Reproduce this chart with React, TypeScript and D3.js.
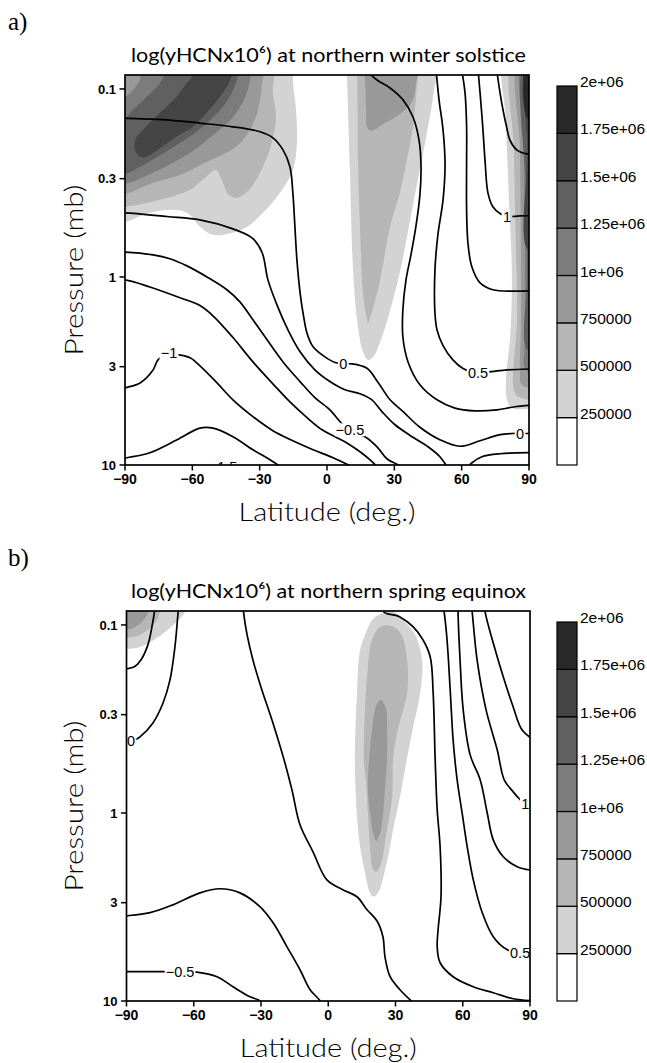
import React from 'react';
import * as d3 from 'd3';

type Pt = [number, number]; // [latitude (deg), pressure (mb)]

const LAT_TICKS = [-90, -60, -30, 0, 30, 60, 90];
const P_TICKS = [0.1, 0.3, 1, 3, 10];
const BAR_LEVELS = [0, 250000, 500000, 750000, 1000000, 1250000, 1500000, 1750000, 2000000];
const BAR_LABELS = ['250000', '500000', '750000', '1e+06', '1.25e+06', '1.5e+06', '1.75e+06', '2e+06'];
const FILL_COLORS = ['#ffffff', '#d3d3d3', '#b6b6b6', '#999999', '#7c7c7c', '#606060', '#454545', '#282828'];

// ---------- Panel a : northern winter solstice ----------
// shaded regions (value above the given colour-bar level)
const aFillL1Left: Pt[] = [[-96.7, 0.07], [-15.6, 0.07], [-15.2, 0.09], [-13.8, 0.129], [-13.4, 0.194], [-15.2, 0.27], [-20.9, 0.357], [-28.5, 0.456], [-35.6, 0.54], [-43.2, 0.585], [-50.8, 0.597], [-56.6, 0.54], [-62.4, 0.456], [-71.3, 0.44], [-82, 0.468], [-90, 0.511], [-96.7, 0.511]];
const aFillL2Left: Pt[] = [[-96.7, 0.07], [-25.4, 0.07], [-24.1, 0.105], [-22.7, 0.141], [-24.5, 0.191], [-27.6, 0.245], [-31.6, 0.305], [-36.1, 0.357], [-40.5, 0.38], [-44.1, 0.362], [-46.8, 0.305], [-49.5, 0.27], [-54.4, 0.297], [-61, 0.344], [-74.4, 0.389], [-90, 0.424], [-96.7, 0.424]];
const aFillL3Left: Pt[] = [[-96.7, 0.07], [-29, 0.07], [-29, 0.095], [-30.7, 0.129], [-34.3, 0.165], [-39.7, 0.199], [-46.8, 0.224], [-54.4, 0.247], [-65.5, 0.287], [-78.9, 0.32], [-90, 0.362], [-96.7, 0.362]];
const aFillL4Left: Pt[] = [[-96.7, 0.11], [-90, 0.11], [-86.4, 0.101], [-83.3, 0.0896], [-81.1, 0.07], [-34.3, 0.07], [-34.3, 0.0896], [-37, 0.114], [-42.3, 0.143], [-49.5, 0.171], [-57.5, 0.204], [-66.4, 0.239], [-76.6, 0.276], [-90, 0.32], [-96.7, 0.32]];
const aFillL5Left: Pt[] = [[-96.7, 0.143], [-90, 0.143], [-86.4, 0.129], [-80.2, 0.11], [-74.4, 0.093], [-71.3, 0.079], [-70.8, 0.07], [-40.5, 0.07], [-39.7, 0.084], [-42.3, 0.104], [-46.8, 0.126], [-53, 0.15], [-60.2, 0.176], [-69.1, 0.206], [-78, 0.239], [-84.2, 0.263], [-90, 0.283], [-96.7, 0.283]];
const aFillL6Left: Pt[] = [[-85.5, 0.187], [-82, 0.165], [-74.4, 0.134], [-67, 0.11], [-62.5, 0.093], [-59.7, 0.084], [-58.8, 0.07], [-41.9, 0.07], [-43.2, 0.09], [-47.7, 0.11], [-53.6, 0.134], [-59.7, 0.159], [-67, 0.179], [-74.4, 0.207], [-80.3, 0.229], [-83.3, 0.229], [-85.5, 0.211]];
const aFillL1Mid: Pt[] = [[8.5, 0.07], [8.9, 0.086], [10.2, 0.27], [11.6, 0.917], [13.4, 1.69], [16, 2.5], [18.3, 2.76], [20.9, 2.63], [24, 2.16], [27.2, 1.65], [32.5, 0.94], [38.3, 0.414], [44.1, 0.182], [47.7, 0.101], [48.6, 0.07]];
const aFillL2Mid: Pt[] = [[12.9, 0.07], [13.4, 0.084], [13.8, 0.239], [14.7, 0.54], [16, 1.215], [17.4, 1.59], [18.3, 1.75], [20, 1.53], [22.7, 1.17], [24.5, 0.917], [28.1, 0.54], [32.5, 0.357], [35.6, 0.239], [38.3, 0.159], [40.5, 0.084], [41, 0.07]];
const aFillL3Mid: Pt[] = [[16.5, 0.07], [16.9, 0.084], [17.4, 0.129], [17.8, 0.159], [19.6, 0.167], [24.9, 0.154], [32.5, 0.136], [37.9, 0.117], [39.6, 0.095], [40.1, 0.07]];
const aFillL1Right: Pt[] = [[79.3, 0.07], [79.7, 0.146], [81.1, 0.389], [82.4, 1.036], [81.5, 2.16], [79.7, 3.52], [80.2, 4.5], [82.4, 4.98], [90, 5.03], [97, 5.03], [97, 0.07]];
const aFillL2Right: Pt[] = [[82.9, 0.07], [83.3, 0.211], [84.2, 0.718], [84.7, 1.69], [83.3, 2.76], [82.9, 3.75], [84.2, 4.23], [86.9, 4.4], [97, 4.4], [97, 0.07]];
const aFillL3Right: Pt[] = [[85.5, 0.07], [86, 0.211], [86.4, 0.718], [86.4, 1.91], [86, 3.12], [86.9, 3.75], [97, 3.75], [97, 0.07]];
const aFillL4Right: Pt[] = [[87.3, 0.07], [87.7, 0.211], [88.2, 0.718], [88.2, 2.16], [88.6, 3.12], [97, 3.12], [97, 0.07]];
const aFillL5Right: Pt[] = [[88.4, 0.07], [88.9, 0.389], [89.1, 1.036], [89.3, 2.44], [97, 2.44], [97, 0.07]];
const aFillL6Right: Pt[] = [[89.1, 0.07], [89.3, 0.211], [89.5, 0.718], [97, 0.718], [97, 0.07]];
const aFillL7Right: Pt[] = [[89.5, 0.07], [89.7, 0.146], [97, 0.146], [97, 0.07]];

// contour lines of log(yHCN x 10^6), interval 0.25
const aC125: Pt[] = [[75.6, 0.079], [77.1, 0.105], [78.4, 0.129], [80, 0.159], [81.5, 0.187], [84.5, 0.211], [87.3, 0.219], [92.7, 0.224]];
const aC100: Pt[] = [[67.3, 0.079], [68.2, 0.105], [69.4, 0.159], [70.4, 0.239], [71.7, 0.357], [73.9, 0.423], [77.1, 0.46], [80.2, 0.477], [86, 0.473], [92.7, 0.473]];
const aC075: Pt[] = [[60, 0.079], [61.5, 0.105], [62.2, 0.159], [62.2, 0.239], [62.2, 0.44], [62.8, 0.66], [64.5, 0.88], [68.2, 1.075], [73.9, 1.17], [82.9, 1.19], [92.7, 1.18]];
const aC050: Pt[] = [[48.6, 0.079], [49.9, 0.114], [51.7, 0.165], [52.6, 0.254], [51.7, 0.389], [49.4, 0.597], [48.1, 0.917], [48.1, 1.56], [49, 1.91], [51.7, 2.32], [56.1, 2.76], [60.6, 3.07], [64.6, 3.2], [71.3, 3.2], [80.2, 3.12], [92.7, 3.08]];
const aC025: Pt[] = [[16.9, 0.079], [22.3, 0.0896], [28.1, 0.0988], [33.8, 0.114], [38.3, 0.141], [41, 0.187], [41.9, 0.26], [41.4, 0.366], [39.6, 0.54], [37.4, 0.763], [35.2, 1.036], [33.8, 1.495], [33.8, 2.08], [36.1, 2.83], [41.4, 3.745], [49, 4.5], [57, 4.98], [65.9, 5.15], [75.7, 5.09], [83.8, 4.9], [92.7, 4.8]];
const aC000: Pt[] = [[-96.7, 0.141], [-90, 0.143], [-71.3, 0.146], [-56.6, 0.152], [-41.9, 0.159], [-29.8, 0.169], [-24.1, 0.182], [-19.6, 0.211], [-16.5, 0.26], [-15.2, 0.358], [-14.3, 0.54], [-13.4, 0.811], [-12, 1.21], [-10.7, 1.55], [-8.9, 1.99], [-6.2, 2.35], [-0.9, 2.66], [3.6, 2.85], [7.3, 2.9], [11.1, 2.9], [17.8, 3.06], [22.7, 3.63], [28.1, 4.5], [33.9, 5.2], [41.4, 6.3], [50.3, 7.34], [59.3, 7.95], [68.2, 7.43], [77.1, 6.9], [82.4, 6.8], [86, 6.8], [92.7, 6.8]];
const aCm025: Pt[] = [[-96.7, 0.456], [-90, 0.456], [-71.3, 0.477], [-56.6, 0.497], [-41.9, 0.555], [-33.4, 0.62], [-29, 0.737], [-26.3, 1.036], [-22.3, 1.407], [-17.4, 1.91], [-12, 2.5], [-5.4, 3.12], [1.3, 3.6], [8, 3.98], [14.7, 4.18], [20, 4.5], [24.5, 5.2], [30.3, 6.11], [37.9, 7.07], [45, 8.0], [50.3, 9.04], [53.9, 10.4]];
const aCm025b: Pt[] = [[61.9, 10.6], [64.6, 9.73], [69, 9.04], [77.1, 8.71], [92.7, 8.6]];
const aCm050: Pt[] = [[-96.7, 0.737], [-90, 0.737], [-77.5, 0.763], [-70, 0.8], [-62.4, 0.873], [-53.5, 1.0], [-44.6, 1.17], [-38.8, 1.357], [-33, 1.69], [-26.7, 2.16], [-19.6, 2.83], [-12, 3.6], [-5.4, 4.38], [1.3, 5.09], [6.7, 6.04], [10.2, 6.5], [13.8, 6.82], [16.9, 7.07], [22.3, 8.0], [26.7, 9.26], [32.5, 10.1], [34.8, 10.6]];
const aCm075: Pt[] = [[-96.7, 1.036], [-90, 1.036], [-78.9, 1.13], [-65.5, 1.29], [-56.6, 1.42], [-50.8, 1.61], [-41.9, 2.1], [-33, 2.83], [-24.1, 3.7], [-16.5, 4.62], [-8.9, 5.6], [-2.2, 6.5], [3.6, 7.07], [9.4, 7.7], [14.7, 8.5], [19.2, 9.38], [23.6, 10.6]];
const aCm100: Pt[] = [[-96.7, 4.1], [-90, 3.89], [-83.3, 3.66], [-77.5, 3.12], [-75.3, 2.76], [-70.4, 2.55], [-66.4, 2.59], [-61, 2.69], [-56.6, 2.97], [-49, 3.66], [-41.9, 4.5], [-33, 5.53], [-24.1, 6.57], [-15.2, 7.43], [-6.2, 8.3], [2.7, 9.15], [12.5, 10.4]];
const aCm125: Pt[] = [[-96.7, 9.5], [-89.2, 9.15], [-78.9, 8.6], [-66.8, 7.34], [-56.6, 6.37], [-50.8, 6.37], [-41.9, 7.07], [-33, 8.3], [-25.4, 9.38], [-18.7, 10.6]];

const aLabelText = ['1', '0.5', '0', '0', '\u22120.5', '\u22121', '\u22121.5'];
const aLabelAt: Pt[] = [[80.2, 0.477], [67.3, 3.24], [7.3, 2.9], [86, 6.82], [10.2, 6.5], [-70.4, 2.55], [-46.3, 10.3]];

// ---------- Panel b : northern spring equinox ----------
const bFillL1Left: Pt[] = [[-97.4, 0.1342], [-90, 0.1342], [-84, 0.1309], [-75.1, 0.1144], [-69.3, 0.1005], [-63.9, 0.0853], [-62.6, 0.0736], [-97.4, 0.0736]];
const bFillL2Left: Pt[] = [[-97.4, 0.1173], [-90, 0.1173], [-84, 0.113], [-79.5, 0.1037], [-76.4, 0.094], [-75.1, 0.0853], [-74.6, 0.0736], [-97.4, 0.0736]];
const bFillL3Left: Pt[] = [[-97.4, 0.1063], [-90, 0.1063], [-86.2, 0.1025], [-83.1, 0.0964], [-80.9, 0.0885], [-80, 0.0842], [-80, 0.0736], [-97.4, 0.0736]];
const bFillL1Mid: Pt[] = [[28.5, 0.0842], [25.3, 0.0853], [20, 0.0929], [16.4, 0.113], [14.2, 0.1358], [12.8, 0.23], [11.9, 0.522], [12.7, 0.997], [14.2, 1.513], [16.4, 2.08], [18.6, 2.66], [20.1, 2.79], [22.2, 2.66], [26.1, 1.84], [28.9, 1.23], [32, 0.82], [35, 0.522], [37.9, 0.348], [41, 0.23], [41.9, 0.1535], [38.3, 0.1103], [32, 0.0906]];
const bFillL2Mid: Pt[] = [[23.1, 0.1025], [19.5, 0.1202], [17.3, 0.189], [16.4, 0.283], [15.9, 0.522], [16.8, 0.667], [17.7, 0.997], [18.6, 1.513], [20, 2.0], [21.3, 2.06], [23.1, 1.93], [26.2, 1.23], [28.5, 0.82], [28.9, 0.522], [30.7, 0.376], [33.4, 0.283], [35.2, 0.23], [35.2, 0.1535], [32.5, 0.1117], [28, 0.101]];
const bFillL3Mid: Pt[] = [[23.5, 0.2505], [21.3, 0.2695], [19.5, 0.362], [18.2, 0.522], [17.7, 0.753], [18.6, 0.997], [20, 1.275], [21.3, 1.407], [23.1, 1.29], [24.4, 1.022], [25.3, 0.753], [26.2, 0.522], [26.2, 0.344], [25.7, 0.276]];

const bC125: Pt[] = [[70, 0.0783], [70, 0.0853], [73.6, 0.1246], [78.1, 0.189], [82.5, 0.273], [86.5, 0.362], [92.3, 0.414]];
const bC100: Pt[] = [[63.8, 0.0783], [64.2, 0.0853], [66.4, 0.1535], [70.4, 0.283], [75.4, 0.4625], [78.5, 0.667], [82.5, 0.772], [85.2, 0.84], [87.9, 0.894], [92.3, 0.9165]];
const bC075: Pt[] = [[57.9, 0.0783], [57.9, 0.0853], [58.8, 0.1535], [60.2, 0.283], [63.3, 0.491], [67.8, 0.667], [70.9, 0.997], [73.6, 1.39], [78.1, 1.71], [84.3, 1.93], [92.3, 2.03]];
const bC050: Pt[] = [[51.2, 0.0783], [51.7, 0.0853], [53, 0.1202], [54.4, 0.2216], [55.7, 0.409], [57.5, 0.667], [59.7, 0.997], [62, 1.513], [64.7, 2.27], [68.7, 3.39], [73.6, 4.55], [79.9, 5.34], [85.6, 5.53], [92.3, 5.53]];
const bC025: Pt[] = [[24.4, 0.0783], [24.8, 0.0853], [32, 0.0906], [37.9, 0.1025], [42.3, 0.1202], [45.5, 0.148], [46.8, 0.23], [47.7, 0.522], [48.6, 0.962], [49.9, 1.513], [50.3, 2.79], [49, 4.18], [48.6, 5.15], [49.9, 6.26], [55.7, 7.43], [64.7, 8.4], [73.6, 9.04], [82.5, 9.73], [92.3, 9.97]];
const bC000: Pt[] = [[-38, 0.0783], [-37.8, 0.0853], [-36.2, 0.113], [-33.6, 0.1535], [-29.6, 0.2216], [-25.1, 0.32], [-19.7, 0.522], [-16.2, 0.753], [-12.6, 1.156], [-6.8, 1.61], [-0.6, 2.27], [6.5, 2.56], [12.8, 2.79], [17.3, 3.27], [21.7, 3.745], [24.4, 4.55], [25.3, 5.81], [27.6, 7.43], [32, 8.71], [37.4, 10.1], [41, 11.1]];
const bC000Pole: Pt[] = [[-90, 0.435], [-87.1, 0.414], [-84, 0.394], [-78.2, 0.332], [-73.7, 0.26], [-70.6, 0.196], [-68.4, 0.131], [-67, 0.0864], [-66.6, 0.0783]];
const bC025Pole: Pt[] = [[-97, 0.172], [-90, 0.171], [-86.5, 0.167], [-83.5, 0.153], [-80.5, 0.128], [-78.5, 0.1], [-77.5, 0.0845], [-77.3, 0.078]];
const bCm025: Pt[] = [[-97.4, 3.56], [-90, 3.52], [-79.5, 3.39], [-69.3, 3.08], [-57.2, 2.66], [-48.3, 2.53], [-39.4, 2.66], [-30.5, 3.15], [-24.6, 3.84], [-18.4, 5.15], [-12.6, 6.82], [-8.1, 8.71], [-3.7, 9.97], [-2.3, 11.1]];
const bCm050: Pt[] = [[-97.4, 6.98], [-90, 6.98], [-73.7, 6.98], [-66.1, 6.98], [-58.6, 7.02], [-49.6, 7.43], [-42.5, 8.4], [-34.9, 9.5], [-30.5, 9.97], [-27.8, 11.1]];

const bLabelText = ['0', '\u22120.5', '0.5', '1'];
const bLabelAt: Pt[] = [[-88, 0.414], [-66.1, 6.98], [85.6, 5.53], [87.9, 0.894]];

interface Fill { level: number; pts: Pt[] }
interface PanelSpec {
  id: string; tag: string; title: string; top: number; left: number; right: number;
  fills: Fill[]; lines: Pt[][]; labelText: string[]; labelAt: Pt[];
}

const PANELS: PanelSpec[] = [
  {
    id: 'a', tag: 'a)', title: 'log(yHCNx10\u2076) at northern winter solstice', top: 75, left: 125, right: 529,
    fills: [
      { level: 1, pts: aFillL1Left }, { level: 1, pts: aFillL1Mid }, { level: 1, pts: aFillL1Right },
      { level: 2, pts: aFillL2Left }, { level: 2, pts: aFillL2Mid }, { level: 2, pts: aFillL2Right },
      { level: 3, pts: aFillL3Left }, { level: 3, pts: aFillL3Mid }, { level: 3, pts: aFillL3Right },
      { level: 4, pts: aFillL4Left }, { level: 4, pts: aFillL4Right },
      { level: 5, pts: aFillL5Left }, { level: 5, pts: aFillL5Right },
      { level: 6, pts: aFillL6Left }, { level: 6, pts: aFillL6Right },
      { level: 7, pts: aFillL7Right },
    ],
    lines: [aC125, aC100, aC075, aC050, aC025, aC000, aCm025, aCm025b, aCm050, aCm075, aCm100, aCm125],
    labelText: aLabelText, labelAt: aLabelAt,
  },
  {
    id: 'b', tag: 'b)', title: 'log(yHCNx10\u2076) at northern spring equinox', top: 611, left: 126.5, right: 530,
    fills: [
      { level: 1, pts: bFillL1Left }, { level: 1, pts: bFillL1Mid },
      { level: 2, pts: bFillL2Left }, { level: 2, pts: bFillL2Mid },
      { level: 3, pts: bFillL3Left }, { level: 3, pts: bFillL3Mid },
    ],
    lines: [bC125, bC100, bC075, bC050, bC025, bC000, bC000Pole, bC025Pole, bCm025, bCm050],
    labelText: bLabelText, labelAt: bLabelAt,
  },
];

const SANS = '"Liberation Sans", Arial, Helvetica, sans-serif';
const LIGHT = 'Lato, "Liberation Sans", Arial, sans-serif';

function labelWidth(t: string): number {
  let w = 0;
  for (const c of t) w += c === '.' ? 3.9 : c === '\u2212' ? 8.2 : 7.8;
  return w + 3;
}

function Panel({ spec }: { spec: PanelSpec }) {
  const top = spec.top;
  const bottom = top + 390;
  const x = d3.scaleLinear().domain([-90, 90]).range([spec.left, spec.right]);
  const y = d3.scaleLog().domain([0.0843, 10]).range([top, bottom]);
  const lineGen = d3.line<Pt>().x(d => x(d[0])).y(d => y(d[1])).curve(d3.curveCatmullRom.alpha(0.5));
  const shapeGen = d3.line<Pt>().x(d => x(d[0])).y(d => y(d[1])).curve(d3.curveCatmullRomClosed.alpha(0.5));
  const fills = [...spec.fills].sort((p, q) => p.level - q.level);
  const cbTop = top + 11;
  const cb = d3.scaleLinear().domain([0, 2000000]).range([bottom, cbTop]);
  const w = spec.right - spec.left;
  const cx = (spec.left + spec.right) / 2;
  return (
    <g>
      <defs>
        <clipPath id={`clip-${spec.id}`}>
          <rect x={spec.left} y={top} width={w} height={bottom - top} />
        </clipPath>
        <mask id={`mask-${spec.id}`} maskUnits="userSpaceOnUse" x={0} y={0} width={647} height={1063}>
          <rect x={0} y={0} width={647} height={1063} fill="#fff" />
          {spec.labelAt.map((p, i) => {
            const lw = labelWidth(spec.labelText[i]);
            return <rect key={i} x={x(p[0]) - lw / 2} y={y(p[1]) - 6.5} width={lw} height={13} fill="#000" />;
          })}
        </mask>
      </defs>
      <text x={8} y={top - 45} fontFamily='"Liberation Serif", "Times New Roman", serif' fontSize={25}>{spec.tag}</text>
      <text x={328.5} y={top - 13} textAnchor="middle" fontFamily={LIGHT} fontWeight={400} fontSize={19}
        textLength={395} lengthAdjust="spacingAndGlyphs">{spec.title}</text>
      <g clipPath={`url(#clip-${spec.id})`}>
        <rect x={spec.left} y={top} width={w} height={bottom - top} fill="#fff" />
        {fills.map((f, i) => (
          <path key={i} d={shapeGen(f.pts) || ''} fill={FILL_COLORS[f.level]} stroke="none" />
        ))}
        <g mask={`url(#mask-${spec.id})`}>
          {spec.lines.map((l, i) => (
            <path key={i} d={lineGen(l) || ''} fill="none" stroke="#000" strokeWidth={1.7} strokeLinejoin="round" />
          ))}
        </g>
        {spec.labelAt.map((p, i) => (
          <text key={i} x={x(p[0])} y={y(p[1]) + 5} textAnchor="middle" fontFamily={SANS} fontSize={14.5}>{spec.labelText[i]}</text>
        ))}
      </g>
      <rect x={spec.left} y={top} width={w} height={bottom - top} fill="none" stroke="#000" strokeWidth={1.7} />
      {P_TICKS.map(p => (
        <g key={p}>
          <line x1={spec.left - 5.5} x2={spec.left} y1={y(p)} y2={y(p)} stroke="#000" strokeWidth={1.5} />
          <text x={spec.left - 9} y={y(p) + 4.7} textAnchor="end" fontFamily={SANS} fontWeight="bold" fontSize={13}>{p}</text>
        </g>
      ))}
      {LAT_TICKS.map(t => (
        <g key={t}>
          <line x1={x(t)} x2={x(t)} y1={bottom} y2={bottom + 5.5} stroke="#000" strokeWidth={1.5} />
          <text x={x(t)} y={bottom + 18.5} textAnchor="middle" fontFamily={SANS} fontWeight="bold" fontSize={14}>
            {t < 0 ? `\u2212${-t}` : `${t}`}
          </text>
        </g>
      ))}
      <text x={cx} y={bottom + 55.5} textAnchor="middle" fontFamily={LIGHT} fontWeight={300} fontSize={26}
        textLength={177} lengthAdjust="spacingAndGlyphs">Latitude (deg.)</text>
      <text transform={`translate(83,${(top + bottom) / 2}) rotate(-90)`} textAnchor="middle" fontFamily={LIGHT} fontWeight={300} fontSize={26}
        textLength={171} lengthAdjust="spacingAndGlyphs">Pressure (mb)</text>
      {BAR_LEVELS.slice(0, -1).map((v, i) => (
        <rect key={v} x={557} y={cb(BAR_LEVELS[i + 1])} width={20} height={cb(v) - cb(BAR_LEVELS[i + 1])}
          fill={FILL_COLORS[i]} stroke="#000" strokeWidth={1.2} />
      ))}
      {BAR_LABELS.map((t, i) => (
        <text key={t} x={580} y={cb(BAR_LEVELS[i + 1]) + 1} fontFamily={SANS} fontSize={15.5}>{t}</text>
      ))}
    </g>
  );
}

export default function App() {
  return (
    <svg width={647} height={1063} viewBox="0 0 647 1063"
      style={{ position: 'absolute', left: 0, top: 0, background: '#fff' }}>
      <rect x={0} y={0} width={647} height={1063} fill="#fff" />
      {PANELS.map(p => <Panel key={p.id} spec={p} />)}
    </svg>
  );
}
